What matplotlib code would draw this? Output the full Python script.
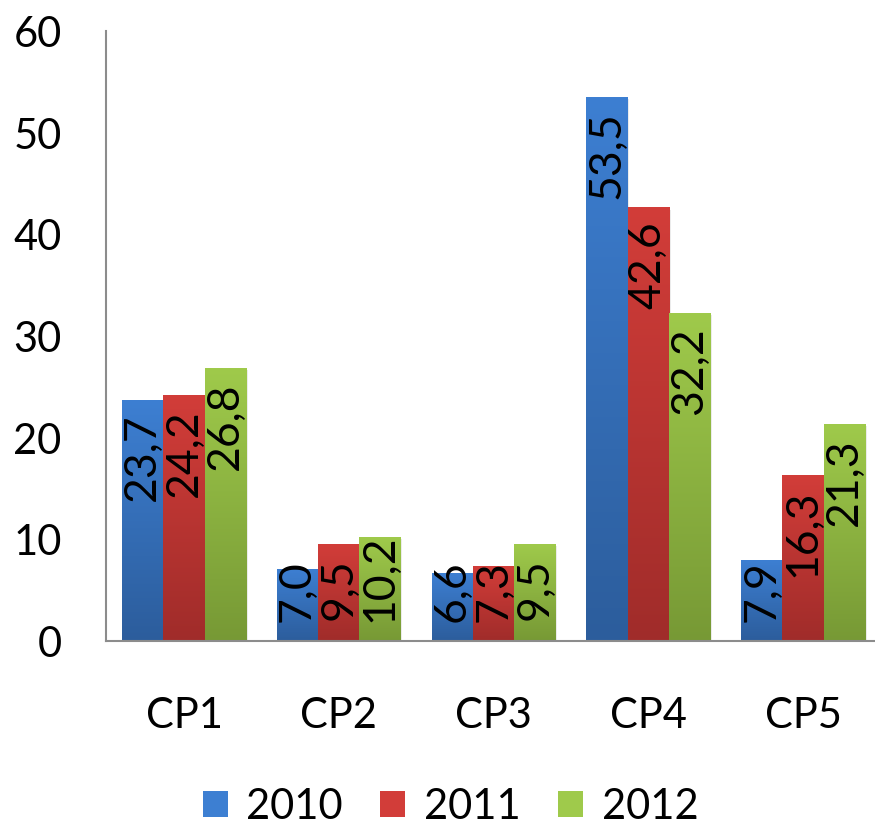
import numpy as np
import matplotlib
matplotlib.use("Agg")
import matplotlib.pyplot as plt
from matplotlib.colors import LinearSegmentedColormap
from matplotlib.patches import Rectangle

# --- Data ---
categories = ["CP1", "CP2", "CP3", "CP4", "CP5"]
years = ["2010", "2011", "2012"]
values_2010 = [23.7, 7.0, 6.6, 53.5, 7.9]
values_2011 = [24.2, 9.5, 7.3, 42.6, 16.3]
values_2012 = [26.8, 10.2, 9.5, 32.2, 21.3]
y_ticks = [0, 10, 20, 30, 40, 50, 60]

# gradient colours: (top, bottom)
GRADIENTS = [("#3d7fd2", "#2c5d9c"), ("#d23d39", "#a02c2a"), ("#9fca4b", "#779935")]
LABEL_FLOOR = 1.9  # labels never reach below this value

plt.rcParams["font.family"] = ["Lato", "DejaVu Sans"]

fig = plt.figure(figsize=(8.75, 8.29), dpi=100)
ax = fig.add_axes([0.1211, 0.2261, 0.8789, 0.7358])

x = np.arange(len(categories))
width = 0.267
series = [values_2010, values_2011, values_2012]
labels = []

for i, (vals, (top, bottom)) in enumerate(zip(series, GRADIENTS)):
    cmap = LinearSegmentedColormap.from_list(f"g{i}", [bottom, top])
    bars = ax.bar(x + (i - 1) * width, vals, width, color=top, label=years[i],
                  linewidth=0, zorder=2)
    for b, v in zip(bars, vals):
        x0, w, h = b.get_x(), b.get_width(), b.get_height()
        # soft shadow
        ax.add_patch(Rectangle((x0 + 0.01, 0), w, h - 0.2, color="#000000",
                               alpha=0.08, linewidth=0, zorder=1))
        grad = np.linspace(0, 1, 256).reshape(-1, 1)
        im = ax.imshow(grad, cmap=cmap, origin="lower", aspect="auto",
                       extent=(x0, x0 + w, 0, h), zorder=2.5)
        im.set_clip_path(b)
        label = f"{v:.1f}".replace(".", ",")
        t = ax.text(x0 + w / 2, h - 1.3, label, rotation=90, ha="center", va="top",
                    fontsize=32, color="black", zorder=4)
        labels.append(t)

ax.set_xlim(-0.505, 4.465)
ax.set_ylim(0, 60)
ax.set_yticks(y_ticks)
ax.set_xticks(x)
ax.set_xticklabels(categories)
ax.tick_params(axis="both", length=0, labelsize=30)
ax.tick_params(axis="x", pad=40)
ax.tick_params(axis="y", pad=32)

for side in ["top", "right"]:
    ax.spines[side].set_visible(False)
for side in ["left", "bottom"]:
    ax.spines[side].set_color("#8c8c8c")
    ax.spines[side].set_linewidth(1.5)

leg = fig.legend(loc="center", bbox_to_anchor=(0.515, 0.026), ncol=3, frameon=False,
                 fontsize=30, handlelength=0.6, handleheight=0.6,
                 handletextpad=0.45, columnspacing=0.9)
for h, (top, bottom) in zip(leg.legend_handles, GRADIENTS):
    h.set_color(top)

# short bars: push labels up so they stay above the floor
fig.canvas.draw()
renderer = fig.canvas.get_renderer()
inv = ax.transData.inverted()
for t in labels:
    bb = t.get_window_extent(renderer)
    ymin = inv.transform((bb.x0, bb.y0))[1]
    if ymin < LABEL_FLOOR:
        t.set_y(LABEL_FLOOR)
        t.set_va("bottom")

fig.savefig("out.png", dpi=100)
